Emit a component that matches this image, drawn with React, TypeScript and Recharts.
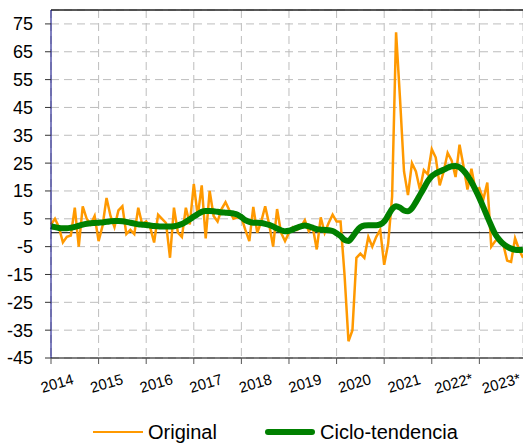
import { LineChart, Line, XAxis, YAxis, CartesianGrid, ReferenceLine, Legend } from 'recharts';

const FONT = '"Liberation Sans", Arial, sans-serif';

// year labels drawn under the axis, and where they sit (in months from Jan 2014)
const years = ['2014', '2015', '2016', '2017', '2018', '2019', '2020', '2021', '2022*', '2023*'];
const labelPos = [1.5, 14, 26.5, 39, 51.5, 64, 76.5, 89, 101.5, 113.5];

// monthly values, Jan 2014 .. Dec 2023
const original = [
  3, 5, 2, -3.5, -1.5, -1, 9, -5, 9.5, 5, 3, 6,
  -3, 2.5, 12.5, 6, 2, 8, 9.5, -0.5, 1, -0.5, 9, 3,
  4, 2, -3.5, 6.5, 5, 3.5, -9, 9, 0, -1.5, 9, 3,
  17.5, 6, 17, -2, 15, 6, 4, 8.5, 11, 8, 5, 5.5,
  5.5, 1, -3, 9.3, 0, 4, 9.5, 3, -5, 8.5, 0, -3,
  0, 2, 1, 2, 4.5, 0.5, 2, -6, 5.5, 0, 3.5, 6.5,
  4, 4, -15, -39, -35, -9, -7.5, -9, -1.5, -5, -1.5, 1,
  -11.5, -4, 13, 72, 48, 22, 13.5, 25, 22, 15.5, 22.5, 21,
  30, 27, 17, 22, 28.7, 26, 20, 31.6, 24, 15.5, 23, 15.5,
  16, 12, 18, -5, -3, -2, -4, -10, -10.5, -2, -6, -9,
];

const cicloTendencia = [
  2.4, 2.0, 1.7, 1.6, 1.6, 1.8, 2.1, 2.5, 2.9, 3.2, 3.4, 3.5,
  3.6, 3.7, 3.9, 4.1, 4.2, 4.2, 4.1, 3.9, 3.6, 3.3, 3.0, 2.9,
  2.8, 2.6, 2.4, 2.3, 2.2, 2.2, 2.2, 2.3, 2.6, 3.1, 3.9, 4.8,
  5.8, 6.7, 7.5, 7.8, 7.8, 7.7, 7.5, 7.3, 7.2, 7.1, 6.9, 6.5,
  5.6, 4.5, 3.9, 3.6, 3.6, 3.5, 3.2, 2.8, 2.2, 1.5, 0.9, 0.5,
  0.7, 1.2, 1.8, 2.3, 2.6, 2.3, 1.8, 1.3, 1.1, 1.0, 0.9, 0.6,
  -0.2, -1.2, -2.6, -3.0, -1.5, 0.5, 2.0, 2.6, 2.7, 2.7, 2.7, 3.0,
  4.0, 6.2, 8.5, 9.5, 9.0, 8.0, 7.7, 8.8, 11.0, 13.5, 16.0, 18.5,
  20.3, 21.3, 22.0, 22.6, 23.3, 23.9, 24.0, 23.5, 22.3, 20.5, 18.2, 15.5,
  12.5, 9.2, 5.8, 2.5, -0.5, -2.5, -4.0, -5.0, -5.7, -6.1, -6.2, -6.1,
];

const yTicks = [-45, -35, -25, -15, -5, 5, 15, 25, 35, 45, 55, 65, 75];
const yearStarts = [0, 12, 24, 36, 48, 60, 72, 84, 96, 108];

const data = original.map((v, i) => ({ m: i, original: v, ciclo: cicloTendencia[i] }));

const NoTick = () => <g />;

const YearTick = (props: any) => {
  const { x, y, payload } = props;
  return (
    <text
      x={x}
      y={y}
      transform={`rotate(-16, ${x}, ${y})`}
      textAnchor="middle"
      dominantBaseline="central"
      fontSize={15}
      fontFamily={FONT}
      fill="#000"
    >
      {years[labelPos.indexOf(payload.value)]}
    </text>
  );
};

const LegendBox = () => (
  <div style={{ display: 'flex', alignItems: 'center', height: 24, paddingLeft: 93, fontFamily: FONT, fontSize: 20, color: '#000' }}>
    <span style={{ width: 50, height: 2.5, background: '#FF9900', display: 'inline-block' }} />
    <span style={{ marginLeft: 5, width: 117 }}>Original</span>
    <span style={{ width: 50, height: 6, background: '#008000', display: 'inline-block', borderRadius: 3 }} />
    <span style={{ marginLeft: 5 }}>Ciclo-tendencia</span>
  </div>
);

export default function App() {
  return (
    <div style={{ position: 'absolute', left: 0, top: 0, width: 523, height: 444, background: '#fff' }}>
      <LineChart width={523} height={444} data={data} margin={{ top: 10, right: 0, left: 0, bottom: 40 }}>
        <CartesianGrid xAxisId="a" stroke="#bdbdbd" strokeDasharray="8 5" />
        <XAxis
          xAxisId="a"
          dataKey="m"
          type="number"
          domain={[0, 119]}
          ticks={yearStarts}
          height={6}
          tickSize={6}
          tick={NoTick}
          axisLine={{ stroke: '#000' }}
          tickLine={{ stroke: '#555' }}
        />
        <XAxis
          xAxisId="b"
          dataKey="m"
          type="number"
          domain={[0, 119]}
          ticks={labelPos}
          height={40}
          tickSize={0}
          tickMargin={19}
          axisLine={false}
          tickLine={false}
          tick={YearTick}
        />
        <YAxis
          width={51}
          domain={[-45, 80]}
          ticks={yTicks}
          allowDataOverflow
          tickSize={6}
          tickMargin={12}
          axisLine={{ stroke: '#000080' }}
          tickLine={{ stroke: '#333' }}
          tick={{ fontSize: 18, fill: '#000', fontFamily: FONT }}
        />
        <ReferenceLine xAxisId="a" y={0} stroke="#000" strokeWidth={1} />
        <ReferenceLine xAxisId="a" y={80} stroke="#222" strokeWidth={1.5} />
        <Line
          xAxisId="a"
          type="linear"
          dataKey="original"
          stroke="#FF9900"
          strokeWidth={2.5}
          dot={false}
          isAnimationActive={false}
        />
        <Line
          xAxisId="a"
          type="monotone"
          dataKey="ciclo"
          stroke="#008000"
          strokeWidth={6}
          strokeLinejoin="round"
          dot={false}
          isAnimationActive={false}
        />
        <Legend
          layout="horizontal"
          verticalAlign="middle"
          align="center"
          wrapperStyle={{ top: 420, left: 0, width: 523 }}
          content={LegendBox}
        />
      </LineChart>
    </div>
  );
}
